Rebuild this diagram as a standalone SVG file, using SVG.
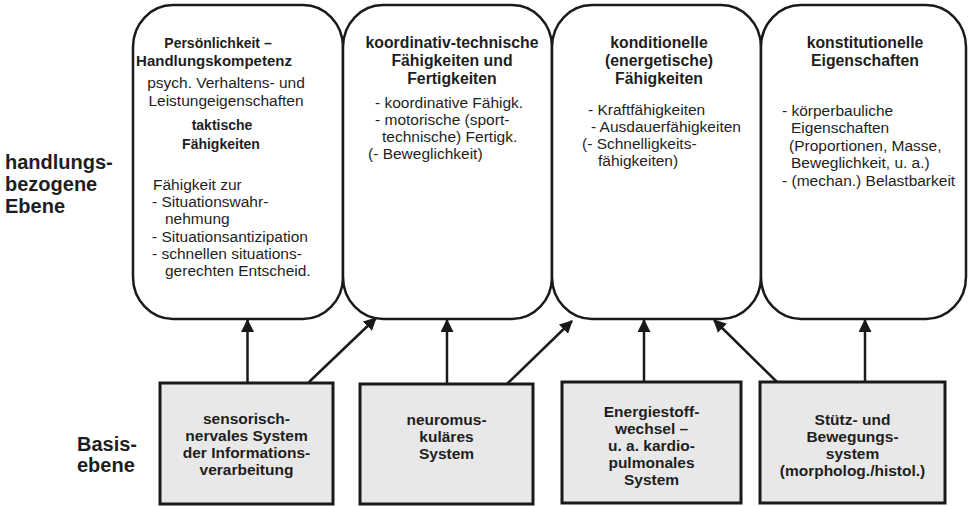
<svg xmlns="http://www.w3.org/2000/svg" width="969" height="506" viewBox="0 0 969 506">
  <defs>
    <marker id="head" markerUnits="userSpaceOnUse" markerWidth="13" markerHeight="13" viewBox="0 0 12 12" refX="11" refY="6" orient="auto">
      <path d="M0,0 L12,6 L0,12 Z" fill="#1a1a1a"/>
    </marker>
    <style>
      text { font-family: "Liberation Sans", Arial, Helvetica, sans-serif; fill: #1e1e1e; }
      .lvl { font-size: 20px; font-weight: bold; }
      .ttl { font-size: 15.8px; font-weight: bold; text-anchor: middle; }
      .ttl1 { font-size: 14px; font-weight: bold; text-anchor: middle; }
      .body { font-size: 15.5px; }
      .mid { text-anchor: middle; }
      .base { font-size: 15.5px; font-weight: bold; text-anchor: middle; }
      .cap { fill: #ffffff; stroke: #1a1a1a; stroke-width: 2.5; }
      .sys { fill: #e8e8e8; stroke: #1a1a1a; stroke-width: 3; }
      .conn line { stroke: #1a1a1a; stroke-width: 2.5; marker-end: url(#head); }
    </style>
  </defs>
  <rect width="969" height="506" fill="#ffffff"/>

  <!-- level labels -->
  <g id="level-action">
    <text class="lvl" x="5" y="169">handlungs-</text>
    <text class="lvl" x="5" y="191">bezogene</text>
    <text class="lvl" x="5" y="213">Ebene</text>
  </g>
  <g id="level-base">
    <text class="lvl" x="77" y="451">Basis-</text>
    <text class="lvl" x="77" y="472">ebene</text>
  </g>

  <!-- upper level: capabilities -->
  <g id="personality">
    <rect class="cap" x="133" y="5" width="210" height="314" rx="40" ry="42"/>
    <text class="ttl1" x="218" y="48">Persönlichkeit –</text>
    <text class="ttl1" x="214" y="66" style="font-size:15px">Handlungskompetenz</text>
    <text class="body mid" x="226" y="88">psych. Verhaltens- und</text>
    <text class="body mid" x="226" y="106">Leistungeigenschaften</text>
    <text class="ttl1" x="222" y="130">taktische</text>
    <text class="ttl1" x="221" y="149">Fähigkeiten</text>
    <text class="body" x="153" y="190">Fähigkeit zur</text>
    <text class="body" x="152" y="207">- Situationswahr-</text>
    <text class="body" x="165" y="224">nehmung</text>
    <text class="body" x="152" y="242">- Situationsantizipation</text>
    <text class="body" x="152" y="259">- schnellen situations-</text>
    <text class="body" x="165" y="276">gerechten Entscheid.</text>
  </g>

  <g id="coordination">
    <rect class="cap" x="343" y="5" width="209" height="314" rx="40" ry="42"/>
    <text class="ttl" x="452" y="48">koordinativ-technische</text>
    <text class="ttl" x="452" y="66">Fähigkeiten und</text>
    <text class="ttl" x="452" y="84">Fertigkeiten</text>
    <text class="body" x="375" y="108">- koordinative Fähigk.</text>
    <text class="body" x="375" y="125">- motorische (sport-</text>
    <text class="body" x="382" y="142">technische) Fertigk.</text>
    <text class="body" x="368" y="159">(- Beweglichkeit)</text>
  </g>

  <g id="conditioning">
    <rect class="cap" x="552" y="5" width="209" height="314" rx="40" ry="42"/>
    <text class="ttl" x="659" y="48">konditionelle</text>
    <text class="ttl" x="659" y="66">(energetische)</text>
    <text class="ttl" x="659" y="84">Fähigkeiten</text>
    <text class="body" x="588" y="115">- Kraftfähigkeiten</text>
    <text class="body" x="591" y="132">- Ausdauerfähigkeiten</text>
    <text class="body" x="582" y="149">(- Schnelligkeits-</text>
    <text class="body" x="598" y="166">fähigkeiten)</text>
  </g>

  <g id="constitution">
    <rect class="cap" x="761" y="5" width="205" height="314" rx="40" ry="42"/>
    <text class="ttl" x="865" y="48">konstitutionelle</text>
    <text class="ttl" x="865" y="66">Eigenschaften</text>
    <text class="body" x="782" y="116">- körperbauliche</text>
    <text class="body" x="791" y="133">Eigenschaften</text>
    <text class="body" x="789" y="151">(Proportionen, Masse,</text>
    <text class="body" x="791" y="168">Beweglichkeit, u. a.)</text>
    <text class="body" x="782" y="186">- (mechan.) Belastbarkeit</text>
  </g>

  <!-- base level: body systems -->
  <g id="sensory">
    <rect class="sys" x="160" y="383" width="173" height="121"/>
    <text class="base" x="246.5" y="424">sensorisch-</text>
    <text class="base" x="246.5" y="441">nervales System</text>
    <text class="base" x="246.5" y="458">der Informations-</text>
    <text class="base" x="246.5" y="475">verarbeitung</text>
  </g>
  <g id="neuromuscular">
    <rect class="sys" x="360" y="384" width="173" height="120"/>
    <text class="base" x="446.5" y="425">neuromus-</text>
    <text class="base" x="446.5" y="442">kuläres</text>
    <text class="base" x="446.5" y="459">System</text>
  </g>
  <g id="metabolism">
    <rect class="sys" x="562" y="382" width="179" height="121"/>
    <text class="base" x="651.5" y="417">Energiestoff-</text>
    <text class="base" x="651.5" y="434">wechsel –</text>
    <text class="base" x="651.5" y="451">u. a. kardio-</text>
    <text class="base" x="651.5" y="468">pulmonales</text>
    <text class="base" x="651.5" y="485">System</text>
  </g>
  <g id="locomotor">
    <rect class="sys" x="760" y="382" width="185" height="121"/>
    <text class="base" x="852.5" y="425">Stütz- und</text>
    <text class="base" x="852.5" y="442">Bewegungs-</text>
    <text class="base" x="852.5" y="459">system</text>
    <text class="base" x="852.5" y="476">(morpholog./histol.)</text>
  </g>

  <!-- connectors -->
  <g id="connectors" class="conn">
    <line x1="247.5" y1="383" x2="247.5" y2="320"/>
    <line x1="309" y1="382" x2="376" y2="318"/>
    <line x1="447" y1="384" x2="447" y2="320"/>
    <line x1="507" y1="384" x2="572" y2="321"/>
    <line x1="644" y1="382" x2="644" y2="320"/>
    <line x1="777" y1="382" x2="714" y2="320"/>
    <line x1="865" y1="382" x2="865" y2="320"/>
  </g>
</svg>
